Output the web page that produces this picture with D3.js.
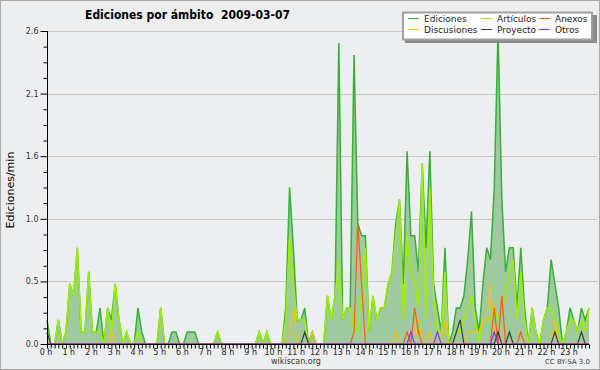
<!DOCTYPE html>
<html>
<head>
<meta charset="utf-8">
<script src="https://cdn.jsdelivr.net/npm/d3@7"></script>
<style>
  body { margin: 0; background: #fff; }
  svg { display: block; }
  text { font-family: "DejaVu Sans", sans-serif; }
</style>
</head>
<body>
<svg id="chart" width="600" height="370"></svg>
<script>
const title = "Ediciones por ámbito  2009-03-07";
const yLabel = "Ediciones/min";

const hourLabels = ["0 h", "1 h", "2 h", "3 h", "4 h", "5 h", "6 h", "7 h", "8 h", "9 h", "10 h", "11 h",
  "12 h", "13 h", "14 h", "15 h", "16 h", "17 h", "18 h", "19 h", "20 h", "21 h", "22 h", "23 h"];
const yTicks = [0, 0.52, 1.04, 1.56, 2.08, 2.6];

// one value every 10 minutes (144 per day), edits per minute
const ediciones = [
  0.2, 0, 0, 0.2, 0, 0.1, 0.5, 0.4, 0.8, 0.1, 0.1, 0.6,
  0.1, 0.1, 0.3, 0, 0.3, 0.2, 0.5, 0.2, 0, 0.1, 0, 0,
  0.3, 0.1, 0, 0, 0, 0, 0.3, 0, 0, 0.1, 0.1, 0,
  0, 0.1, 0.1, 0.1, 0, 0, 0, 0, 0, 0.1, 0, 0,
  0, 0, 0, 0, 0, 0, 0, 0, 0.1, 0, 0.1, 0,
  0, 0, 0, 0.3, 1.3, 0.8, 0.2, 0.2, 0.3, 0, 0.1, 0,
  0, 0, 0.4, 0.2, 0.4, 2.5, 0.2, 0.3, 0.3, 2.4, 1.0, 0.9,
  0.9, 0.1, 0.4, 0.2, 0.3, 0.3, 0.5, 0.6, 1.0, 1.2, 0.5, 1.6,
  0.9, 0.9, 0.6, 1.5, 0.8, 1.6, 0.5, 0.3, 0.1, 0.8, 0, 0.1,
  0.3, 0.3, 0.4, 0.7, 1.1, 0.3, 0.1, 0.5, 0.8, 0.7, 1.3, 2.6,
  1.2, 0.6, 0.8, 0.8, 0.3, 0.8, 0.3, 0, 0.3, 0.1, 0, 0.2,
  0.3, 0.7, 0.5, 0.3, 0, 0.1, 0.3, 0.2, 0.1, 0.3, 0.2, 0.3
];
const articulos = [
  0.1, 0, 0, 0.2, 0, 0.1, 0.5, 0.4, 0.8, 0.1, 0.1, 0.6,
  0.1, 0.1, 0.1, 0, 0.3, 0.1, 0.5, 0.2, 0, 0.1, 0, 0,
  0.1, 0, 0, 0, 0, 0, 0.3, 0, 0, 0, 0, 0,
  0, 0, 0, 0, 0, 0, 0, 0, 0, 0.1, 0, 0,
  0, 0, 0, 0, 0, 0, 0, 0, 0.1, 0, 0.1, 0,
  0, 0, 0, 0.2, 0.9, 0.5, 0.2, 0.2, 0.2, 0, 0, 0,
  0, 0, 0.4, 0.2, 0.4, 0.7, 0.2, 0.3, 0.3, 0.1, 0.1, 0.4,
  0.8, 0.1, 0.4, 0.2, 0.3, 0.3, 0.5, 0.6, 0.9, 1.2, 0.2, 0.9,
  0.6, 0.5, 0.3, 1.5, 0.2, 1.3, 0.4, 0.1, 0.1, 0.6, 0, 0,
  0.1, 0.1, 0.2, 0.3, 0.4, 0.2, 0, 0.2, 0.2, 0.2, 0.3, 0.2,
  0.3, 0.4, 0.6, 0.7, 0.2, 0.6, 0.2, 0, 0.3, 0.1, 0, 0.2,
  0.3, 0.3, 0.2, 0.1, 0, 0.1, 0.2, 0.2, 0.1, 0.2, 0.1, 0.3
];
const discusiones = [
  0, 0, 0, 0, 0, 0, 0, 0, 0, 0, 0, 0,
  0, 0, 0, 0, 0, 0.1, 0, 0, 0, 0, 0, 0,
  0, 0, 0, 0, 0, 0, 0, 0, 0, 0, 0, 0,
  0, 0, 0, 0, 0, 0, 0, 0, 0, 0, 0, 0,
  0, 0, 0, 0, 0, 0, 0, 0, 0, 0, 0, 0,
  0, 0, 0, 0, 0.1, 0.3, 0, 0, 0, 0, 0.1, 0,
  0, 0, 0, 0, 0, 0, 0, 0, 0, 0, 0, 0,
  0, 0, 0, 0, 0, 0, 0, 0, 0.1, 0, 0, 0,
  0, 0, 0.2, 0, 0, 0.1, 0, 0, 0, 0.2, 0, 0,
  0, 0, 0, 0.1, 0.1, 0.1, 0.1, 0.2, 0.2, 0.5, 0.1, 0,
  0, 0, 0, 0, 0, 0, 0, 0, 0, 0, 0, 0,
  0, 0, 0.2, 0, 0, 0, 0, 0, 0, 0, 0, 0
];
const anexos = [
  0, 0, 0, 0, 0, 0, 0, 0, 0, 0, 0, 0,
  0, 0, 0, 0, 0, 0, 0, 0, 0, 0, 0, 0,
  0, 0, 0, 0, 0, 0, 0, 0, 0, 0, 0, 0,
  0, 0, 0, 0, 0, 0, 0, 0, 0, 0, 0, 0,
  0, 0, 0, 0, 0, 0, 0, 0, 0, 0, 0, 0,
  0, 0, 0, 0, 0, 0, 0, 0, 0, 0, 0, 0,
  0, 0, 0, 0, 0, 0, 0, 0, 0, 0.1, 1.0, 0.5,
  0, 0, 0, 0, 0, 0, 0, 0, 0, 0, 0, 0.1,
  0, 0.3, 0.1, 0, 0, 0, 0, 0, 0, 0, 0, 0,
  0, 0, 0, 0, 0, 0, 0, 0, 0, 0, 0.3, 0,
  0.4, 0, 0, 0, 0, 0.1, 0, 0, 0, 0, 0, 0,
  0, 0, 0, 0, 0, 0, 0, 0, 0, 0, 0, 0
];
const proyecto = [
  0.1, 0, 0, 0, 0, 0, 0, 0, 0, 0, 0, 0,
  0, 0, 0, 0, 0, 0, 0, 0, 0, 0, 0, 0,
  0, 0, 0, 0, 0, 0, 0, 0, 0, 0, 0, 0,
  0, 0, 0, 0, 0, 0, 0, 0, 0, 0, 0, 0,
  0, 0, 0, 0, 0, 0, 0, 0, 0, 0, 0, 0,
  0, 0, 0, 0, 0, 0, 0, 0, 0.1, 0, 0, 0,
  0, 0, 0, 0, 0, 0, 0, 0, 0, 0, 0, 0,
  0, 0, 0, 0, 0, 0, 0, 0, 0, 0, 0, 0,
  0, 0, 0, 0, 0, 0, 0, 0, 0, 0, 0, 0,
  0.1, 0.2, 0, 0, 0, 0, 0, 0, 0, 0, 0, 0.1,
  0, 0, 0.1, 0, 0, 0, 0, 0, 0, 0, 0, 0,
  0, 0, 0.1, 0, 0, 0, 0, 0, 0, 0.1, 0, 0
];
const otros = [
  0, 0, 0, 0, 0, 0, 0, 0, 0, 0, 0, 0,
  0, 0, 0, 0, 0, 0, 0, 0, 0, 0, 0, 0,
  0, 0, 0, 0, 0, 0, 0, 0, 0, 0, 0, 0,
  0, 0, 0, 0, 0, 0, 0, 0, 0, 0, 0, 0,
  0, 0, 0, 0, 0, 0, 0, 0, 0, 0, 0, 0,
  0, 0, 0, 0, 0, 0, 0, 0, 0, 0, 0, 0,
  0, 0, 0, 0, 0, 0, 0, 0, 0, 0, 0, 0,
  0, 0, 0, 0, 0, 0, 0, 0, 0, 0, 0, 0,
  0.1, 0, 0, 0, 0, 0, 0, 0.1, 0, 0, 0, 0,
  0, 0, 0, 0, 0, 0, 0, 0, 0, 0, 0.1, 0,
  0, 0, 0, 0, 0, 0, 0, 0, 0, 0, 0, 0,
  0, 0, 0, 0, 0, 0, 0, 0, 0, 0, 0, 0
];

const series = [
  { name: "Ediciones", values: ediciones, color: "#36b036", width: 1.5 },
  { name: "Artículos", values: articulos, color: "#9ef000", width: 1.5 },
  { name: "Anexos", values: anexos, color: "#ff5a10", width: 1.2 },
  { name: "Discusiones", values: discusiones, color: "#f8c400", width: 1.2 },
  { name: "Proyecto", values: proyecto, color: "#3a3a3a", width: 1.2 },
  { name: "Otros", values: otros, color: "#9a30f0", width: 1.2 }
];

const svg = d3.select("#chart");
const W = 600, H = 370;

// background + frame
svg.append("rect").attr("width", W).attr("height", H).attr("fill", "#edeef0");
svg.append("rect")
  .attr("x", 0.5).attr("y", 0.5).attr("width", W - 1).attr("height", H - 1)
  .attr("fill", "none").attr("stroke", "#a8a8a8");

const x = d3.scaleLinear().domain([0, ediciones.length - 1]).range([47, 589]);
const y = d3.scaleLinear().domain([0, 2.6]).range([344, 31]);

// gridlines
svg.append("g")
  .selectAll("line")
  .data(yTicks.slice(1))
  .enter()
  .append("line")
  .attr("x1", 47).attr("x2", 597)
  .attr("y1", d => Math.round(y(d)) + 0.5)
  .attr("y2", d => Math.round(y(d)) + 0.5)
  .attr("stroke", "#c8c8c8");

// area under total edits
const area = d3.area()
  .x((d, i) => x(i))
  .y0(y(0))
  .y1(d => y(d));
svg.append("path")
  .datum(ediciones)
  .attr("fill", "#9fc99f")
  .attr("d", area);

const drawLine = (values, color, width) => {
  const line = d3.line()
    .x((d, i) => x(i))
    .y(d => y(d));
  svg.append("path")
    .datum(values)
    .attr("fill", "none")
    .attr("stroke", color)
    .attr("stroke-width", width)
    .attr("d", line);
};

// total first, then the rest on top
const drawOrder = ["Ediciones", "Artículos", "Discusiones", "Anexos", "Proyecto", "Otros"];
drawOrder.forEach(n => {
  const s = series.find(d => d.name === n);
  drawLine(s.values, s.color, s.width);
});

// y axis
const yAxis = d3.axisLeft(y).tickValues(yTicks).tickSize(7).tickPadding(2).tickFormat(d3.format(".1f"));
const gy = svg.append("g").attr("transform", "translate(47.5,0)").call(yAxis);
gy.select(".domain").attr("d", `M0,${y(2.6)}V${y(0)}`);
gy.selectAll("text").attr("font-size", 8).attr("font-family", "DejaVu Sans").attr("fill", "#333");

const yMinor = d3.range(0, 2.61, 0.13).filter(v => !yTicks.some(t => Math.abs(t - v) < 0.01));
svg.append("g").attr("transform", "translate(47.5,0)")
  .call(d3.axisLeft(y).tickValues(yMinor).tickSize(4).tickFormat(""))
  .select(".domain").remove();

// x axis: one tick per 10 minutes
const xAxis = d3.axisBottom(x).tickValues(d3.range(0, ediciones.length)).tickSize(4).tickFormat("");
const gx = svg.append("g").attr("transform", "translate(0,344.5)").call(xAxis);
gx.select(".domain").attr("d", `M${x(0)},0H${x(ediciones.length - 1)}`);

svg.append("g")
  .selectAll("text")
  .data(hourLabels)
  .enter()
  .append("text")
  .attr("x", (d, i) => x(i * 6) - 1)
  .attr("y", 354.5)
  .attr("text-anchor", "middle")
  .attr("font-size", 8)
  .attr("fill", "#222")
  .text(d => d);

// titles
svg.append("text")
  .attr("x", 85).attr("y", 18.5)
  .attr("font-weight", "bold")
  .attr("font-size", 13)
  .attr("fill", "#000")
  .attr("textLength", 205)
  .attr("lengthAdjust", "spacingAndGlyphs")
  .style("white-space", "pre")
  .text(title);

svg.append("text")
  .attr("transform", "translate(13.5,190) rotate(-90)")
  .attr("text-anchor", "middle")
  .attr("font-size", 11)
  .attr("fill", "#000")
  .text(yLabel);

svg.append("text")
  .attr("x", 296).attr("y", 364)
  .attr("text-anchor", "middle")
  .attr("font-size", 8)
  .attr("fill", "#333")
  .text("wikiscan.org");

svg.append("text")
  .attr("x", 590).attr("y", 364)
  .attr("text-anchor", "end")
  .attr("font-size", 7)
  .attr("fill", "#444")
  .text("CC BY-SA 3.0");

// legend
const legend = svg.append("g");
legend.append("rect").attr("x", 405).attr("y", 15).attr("width", 192).attr("height", 28).attr("fill", "#8a8a8a");
legend.append("rect").attr("x", 403).attr("y", 12.5).attr("width", 189).attr("height", 27)
  .attr("fill", "#fff").attr("stroke", "#a0a0a0").attr("stroke-width", 2);

const legendCols = [408, 481, 539];
const legendRows = [18.5, 29.5];
series.forEach((s, i) => {
  const cx = legendCols[i % 3], cy = legendRows[Math.floor(i / 3)];
  legend.append("line")
    .attr("x1", cx).attr("x2", cx + 11)
    .attr("y1", cy).attr("y2", cy)
    .attr("stroke", s.color).attr("stroke-width", 1);
  legend.append("text")
    .attr("x", cx + 16).attr("y", cy + 3.5)
    .attr("font-size", 9)
    .attr("fill", "#222")
    .text(s.name);
});
</script>
</body>
</html>
